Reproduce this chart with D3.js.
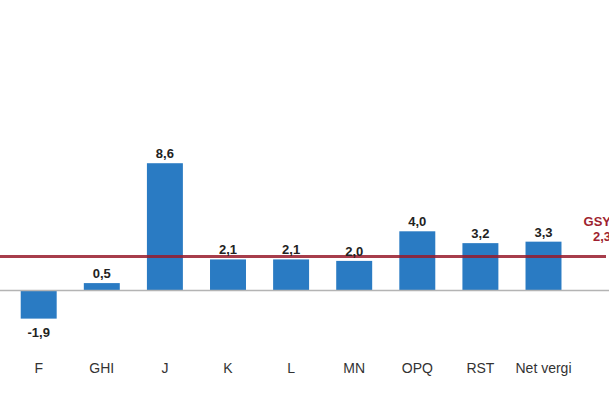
<!DOCTYPE html>
<html><head><meta charset="utf-8">
<script src="https://cdn.jsdelivr.net/npm/d3@7"></script>
<style>html,body{margin:0;padding:0;background:#fff;overflow:hidden}</style>
</head><body>
<svg id="c" width="609" height="406"></svg>
<script>
const categories = ["F","GHI","J","K","L","MN","OPQ","RST","Net vergi"];
const values = [-1.9,0.5,8.6,2.1,2.1,2.0,4.0,3.2,3.3];
const valueLabels = ["-1,9","0,5","8,6","2,1","2,1","2,0","4,0","3,2","3,3"];
const gdpName = "GSYH";
const gdpValue = 2.3;
const gdpLabel = "2,3";

const svg = d3.select("#c");
const step = 63.1;
const x = d3.scaleBand().domain(categories)
  .range([38.7 - step/2, 38.7 - step/2 + step*categories.length])
  .paddingInner(0.43).paddingOuter(0.215);
const y = d3.scaleLinear().domain([-2, 10]).range([320.1, 142.5]);

// bars
svg.append("g").selectAll("rect").data(values).join("rect")
  .attr("x", (d,i)=>x(categories[i]))
  .attr("width", x.bandwidth())
  .attr("y", d=>y(Math.max(0,d)))
  .attr("height", d=>Math.abs(y(d)-y(0)))
  .attr("fill", "#2a7bc3");

// zero baseline
svg.append("line").attr("x1",0).attr("x2",609)
  .attr("y1",y(0)).attr("y2",y(0))
  .attr("stroke","#b4b4b4").attr("stroke-width",1.5);

// GDP line
svg.append("line").attr("x1",0).attr("x2",606)
  .attr("y1",y(gdpValue)).attr("y2",y(gdpValue))
  .attr("stroke","#981b2b").attr("stroke-opacity",0.85).attr("stroke-width",3);

// value labels
svg.append("g").selectAll("text").data(values).join("text")
  .attr("x",(d,i)=>x(categories[i])+x.bandwidth()/2)
  .attr("y",d=> d>=0 ? y(d)-5 : y(d)+18)
  .attr("text-anchor","middle")
  .attr("font-family","Liberation Sans, Arial, sans-serif")
  .attr("font-size",13).attr("font-weight","bold").attr("fill","#222")
  .text((d,i)=>valueLabels[i]);

// category labels
const xAxis = d3.axisBottom(x).tickSize(0).tickPadding(0);
const ax = svg.append("g").attr("transform","translate(0,363)").call(xAxis);
ax.select(".domain").remove();
ax.selectAll("text")
  .attr("font-family","Liberation Sans, Arial, sans-serif")
  .attr("font-size",14).attr("fill","#333").attr("dy","0.71em")
  .attr("y",0);

// GDP annotation
const g2 = svg.append("g").attr("font-family","Liberation Sans, Arial, sans-serif")
  .attr("font-size",13).attr("font-weight","bold").attr("fill","#9e1f30")
  .attr("text-anchor","middle");
g2.append("text").attr("x",602).attr("y",y(gdpValue)-30).text(gdpName);
g2.append("text").attr("x",602).attr("y",y(gdpValue)-15).text(gdpLabel);
</script>
</body></html>
